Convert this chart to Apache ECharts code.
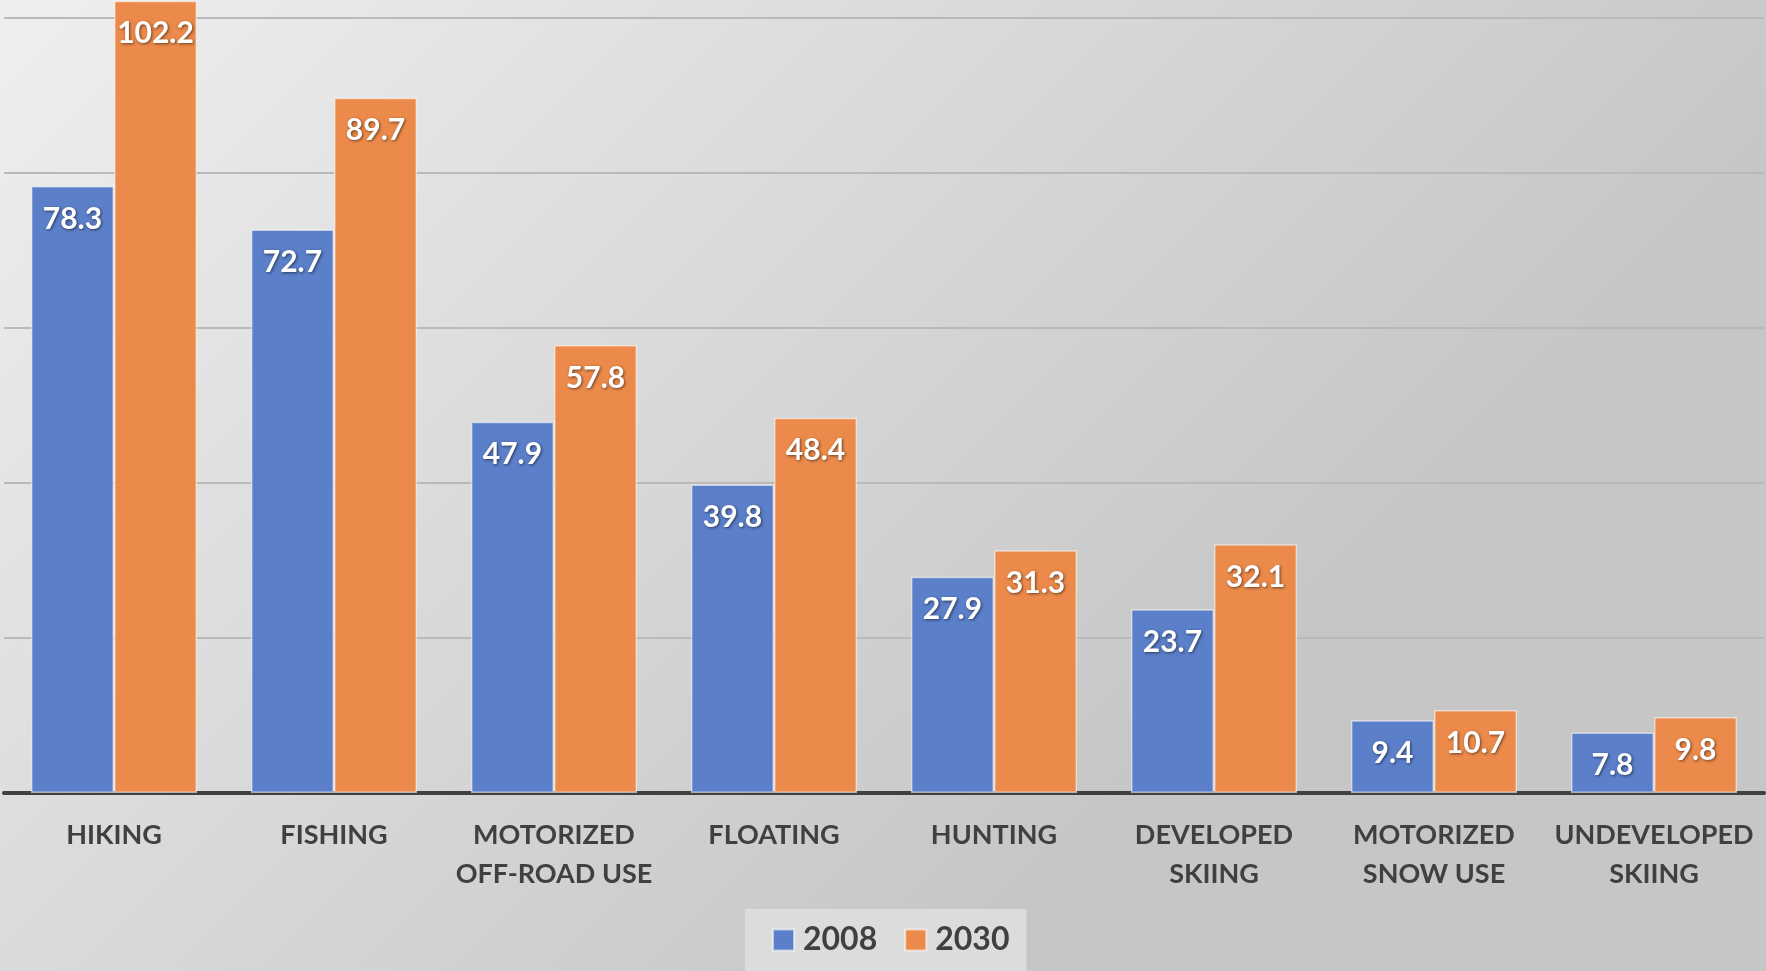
<!DOCTYPE html>
<html>
<head>
<meta charset="utf-8">
<script src="https://cdn.jsdelivr.net/npm/echarts@6/dist/echarts.min.js"></script>
<style>
html,body{margin:0;padding:0;}
#chart{width:1766px;height:971px;}
</style>
</head>
<body>
<div id="chart"></div>
<script>
const categories = ['HIKING', 'FISHING', 'MOTORIZED\nOFF-ROAD USE', 'FLOATING', 'HUNTING', 'DEVELOPED\nSKIING', 'MOTORIZED\nSNOW USE', 'UNDEVELOPED\nSKIING'];
const values2008 = [78.3, 72.7, 47.9, 39.8, 27.9, 23.7, 9.4, 7.8];
const values2030 = [102.2, 89.7, 57.8, 48.4, 31.3, 32.1, 10.7, 9.8];
const seriesNames = ['2008', '2030'];

const FONT = 'Lato, "Open Sans", sans-serif';
const chart = echarts.init(document.getElementById('chart'));

const labelStyle = {
  show: true,
  position: 'insideTop',
  distance: 16,
  color: '#ffffff',
  fontFamily: FONT,
  fontWeight: 'bold',
  fontSize: 30,
  lineHeight: 34,
  textShadowColor: 'rgba(0,0,0,0.55)',
  textShadowBlur: 3,
  textShadowOffsetX: 1,
  textShadowOffsetY: 1
};

chart.setOption({
  backgroundColor: {
    type: 'linear', x: 0, y: 0, x2: 0.55, y2: 1,
    colorStops: [
      { offset: 0, color: '#efefef' },
      { offset: 1, color: '#c6c6c6' }
    ]
  },
  animation: false,
  grid: { left: 4, right: 2, top: 0, bottom: 178, containLabel: false },
  legend: {
    data: seriesNames,
    left: 745,
    top: 909,
    padding: [13, 17, 13, 27],
    backgroundColor: '#dcdcdc',
    itemWidth: 21,
    itemHeight: 21,
    itemGap: 27,
    icon: 'rect',
    textStyle: { fontFamily: FONT, fontWeight: 'bold', fontSize: 32, color: '#404040', lineHeight: 36, padding: [0, 0, 0, 4] }
  },
  xAxis: {
    type: 'category',
    data: categories,
    axisLine: { show: true, lineStyle: { color: '#404040', width: 4 } },
    axisTick: { show: false },
    axisLabel: {
      interval: 0,
      margin: 23,
      color: '#404040',
      fontFamily: FONT,
      fontWeight: 'bold',
      fontSize: 27,
      lineHeight: 39
    }
  },
  yAxis: {
    type: 'value',
    min: 0,
    max: 102.3,
    interval: 20,
    axisLabel: { show: false },
    axisLine: { show: false },
    axisTick: { show: false },
    splitLine: { show: true, showMaxLine: false, lineStyle: { color: '#b9b9b9', width: 2 } }
  },
  series: [
    {
      name: seriesNames[0],
      type: 'bar',
      data: values2008,
      barGap: '0%',
      barCategoryGap: '24.5%',
      itemStyle: { color: '#5B7FC9', borderColor: 'rgba(255,255,255,0.55)', borderWidth: 1.5 },
      label: labelStyle
    },
    {
      name: seriesNames[1],
      type: 'bar',
      data: values2030,
      barGap: '0%',
      barCategoryGap: '24.5%',
      itemStyle: { color: '#EB8A4A', borderColor: 'rgba(255,255,255,0.55)', borderWidth: 1.5 },
      label: labelStyle
    }
  ]
});
</script>
</body>
</html>
